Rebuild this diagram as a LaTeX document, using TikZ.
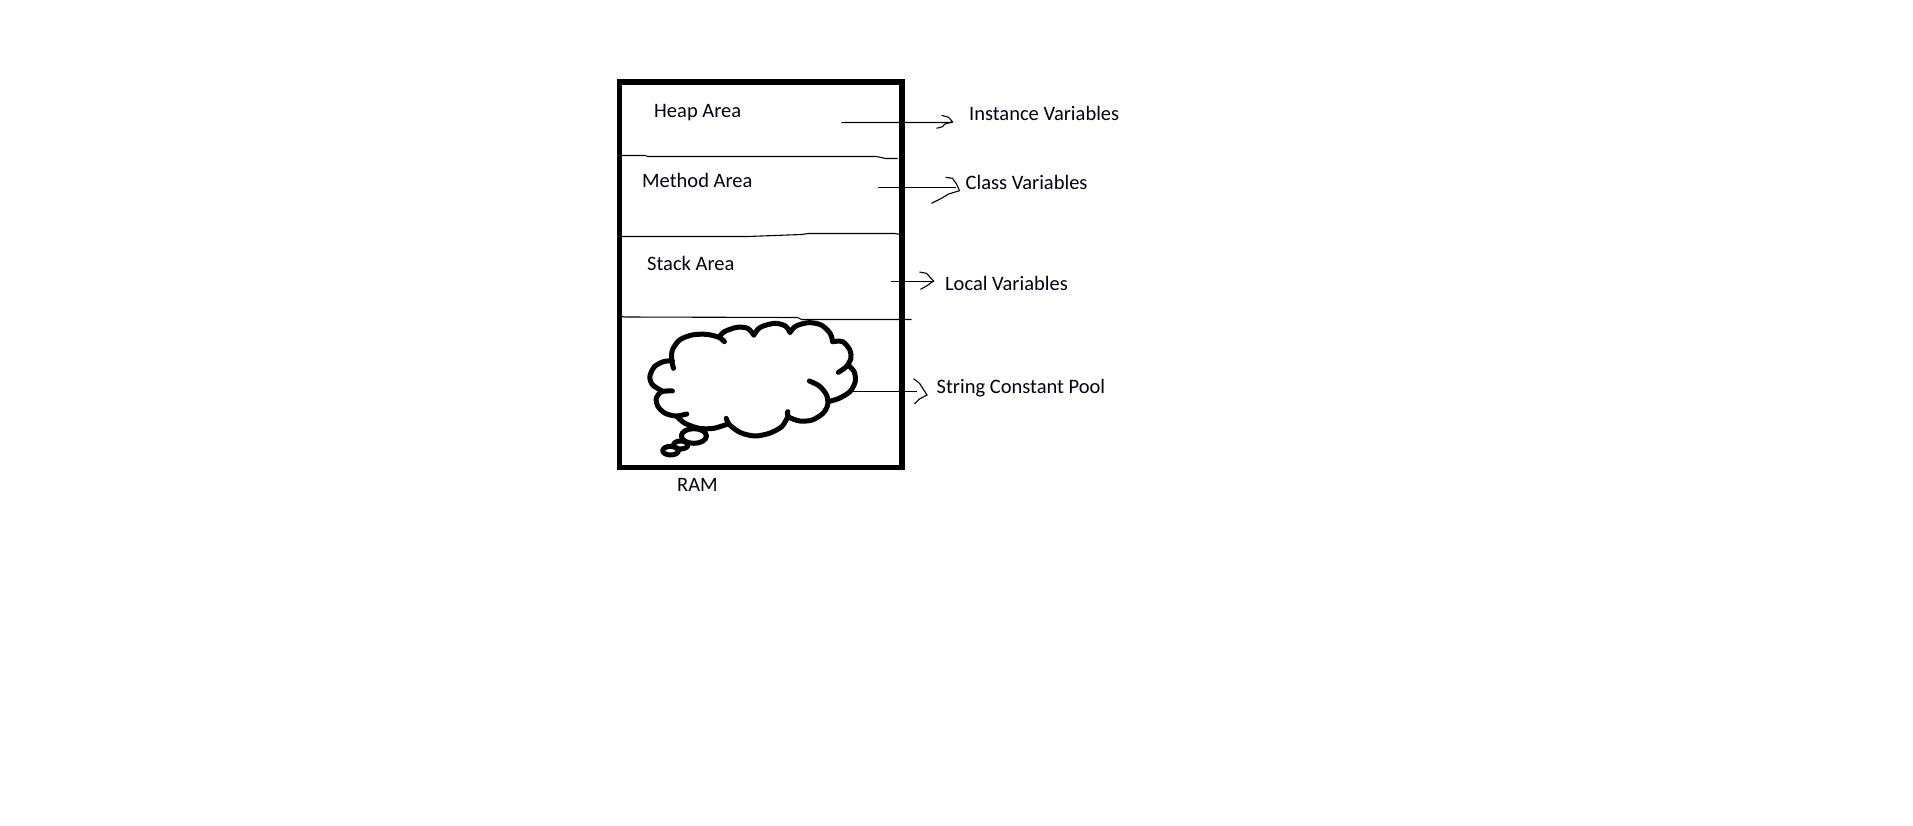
\documentclass[tikz,border=0pt]{standalone}
\usepackage{fontspec}
\setmainfont{Carlito}
\tikzset{
  lab/.style={anchor=base west,inner sep=0pt,text=black!92!blue,font=\fontsize{20.5}{24}\selectfont},
  thin line/.style={line width=1.1pt,black},
  cloudline/.style={line width=5pt,black,line cap=round,line join=round},
}
\begin{document}
\begin{tikzpicture}[x=1pt,y=-1pt]
\useasboundingbox (0,0) rectangle (1913,825);
\fill[white] (0,0) rectangle (1913,825);
\node[draw=black,line width=5.5pt,outer sep=0pt,minimum width=282.5pt,minimum height=385.6pt,inner sep=0pt,anchor=north west] (ram) at (619.5,82) {};
\begin{scope}[shift={(-4.5,0)}]
\draw[thin line] (625,155.5) -- (650,155.5) -- (652,156.5) -- (881,156.5) -- (890,158.5) -- (902,158.5);
\draw[thin line] (625,236.5) -- (752,236.5) -- (806,234.5) -- (813,233.5) -- (899,233.5) -- (905,234.5);
\draw[thin line] (625,316.5) -- (630,317) -- (802,317.5) -- (806,319.5) -- (916,319.5);
\node[lab] (heap) at (658.5,117.3) {Heap Area};
\node[lab] (method) at (646.5,187) {Method Area};
\node[lab] (stack) at (651.5,270) {Stack Area};
\node[lab] (inst) at (973.4,120) {Instance Variables};
\node[lab] (class) at (970,189) {Class Variables};
\node[lab] (local) at (949.4,290) {Local Variables};
\node[lab] (pool) at (941,393) {String Constant Pool};
\node[lab] (ramlabel) at (681.5,491) {RAM};
\coordinate (a1s) at (846,122.7); \coordinate (a1e) at (957,122.5);
\coordinate (a2s) at (882,187.5); \coordinate (a2e) at (960,187.5);
\coordinate (a3s) at (895,281.5); \coordinate (a3e) at (938,281.5);
\coordinate (a4s) at (856,391.5); \coordinate (a4e) at (921,391.5);
\draw[thin line] (a1s) -- (849,122.5) -- (a1e);
\draw[thin line] (946,115.3) -- (953,117.3) -- (957,121.7) -- (949,124.3) -- (947,126.7) -- (941,128.3);
\draw[thin line] (a2s) -- (a2e);
\draw[thin line] (950,177.3) -- (957,178.3) -- (961,184) -- (964,190.7) -- (953,194) -- (946,198.3) -- (936,203.3);
\draw[thin line] (a3s) -- (a3e);
\draw[thin line] (924,272) -- (931,273.3) -- (938,281) -- (931,286) -- (925,289.3);
\draw[thin line] (a4s) -- (a4e);
\draw[thin line] (918,378.7) -- (924,383.3) -- (931.5,395) -- (924,399) -- (919,403.7);
\begin{scope}[shift={(603.4,300)},x=0.3585pt,y=-0.3333pt]
\draw[cloudline] plot[smooth] coordinates {(208,205)(203,180)(205,150)(225,120)(260,105)(300,103)(335,112)(350,125)};
\draw[cloudline] plot[smooth] coordinates {(335,112)(350,95)(385,82)(415,85)(432,105)};
\draw[cloudline] plot[smooth] coordinates {(432,105)(450,82)(490,70)(520,78)(533,97)};
\draw[cloudline] plot[smooth] coordinates {(533,97)(550,78)(585,68)(620,75)(645,100)(652,125)};
\draw[cloudline] plot[smooth] coordinates {(652,125)(680,125)(700,150)(703,175)(690,200)(668,217)};
\draw[cloudline] plot[smooth] coordinates {(695,195)(712,215)(715,245)(700,275)(670,295)(640,305)};
\draw[cloudline] plot[smooth] coordinates {(587,243)(615,258)(635,285)(638,315)(625,340)(595,360)(560,363)(528,350)(527,335)};
\draw[cloudline] plot[smooth] coordinates {(527,350)(510,380)(475,400)(435,408)(395,398)(365,375)(355,355)};
\draw[cloudline] plot[smooth] coordinates {(360,372)(320,385)(280,385)(240,370)(218,350)};
\draw[cloudline] plot[smooth] coordinates {(245,342)(215,348)(185,340)(165,320)(160,295)(175,275)(205,273)};
\draw[cloudline] plot[smooth] coordinates {(175,272)(150,255)(142,230)(155,200)(180,185)(205,182)};
\draw[cloudline] (265,408) ellipse [x radius=35,y radius=22];
\draw[cloudline] (228,435) ellipse [x radius=20,y radius=12];
\draw[cloudline] (200,452) ellipse [x radius=22,y radius=13];
\end{scope}
\end{scope}
\end{tikzpicture}
\end{document}
